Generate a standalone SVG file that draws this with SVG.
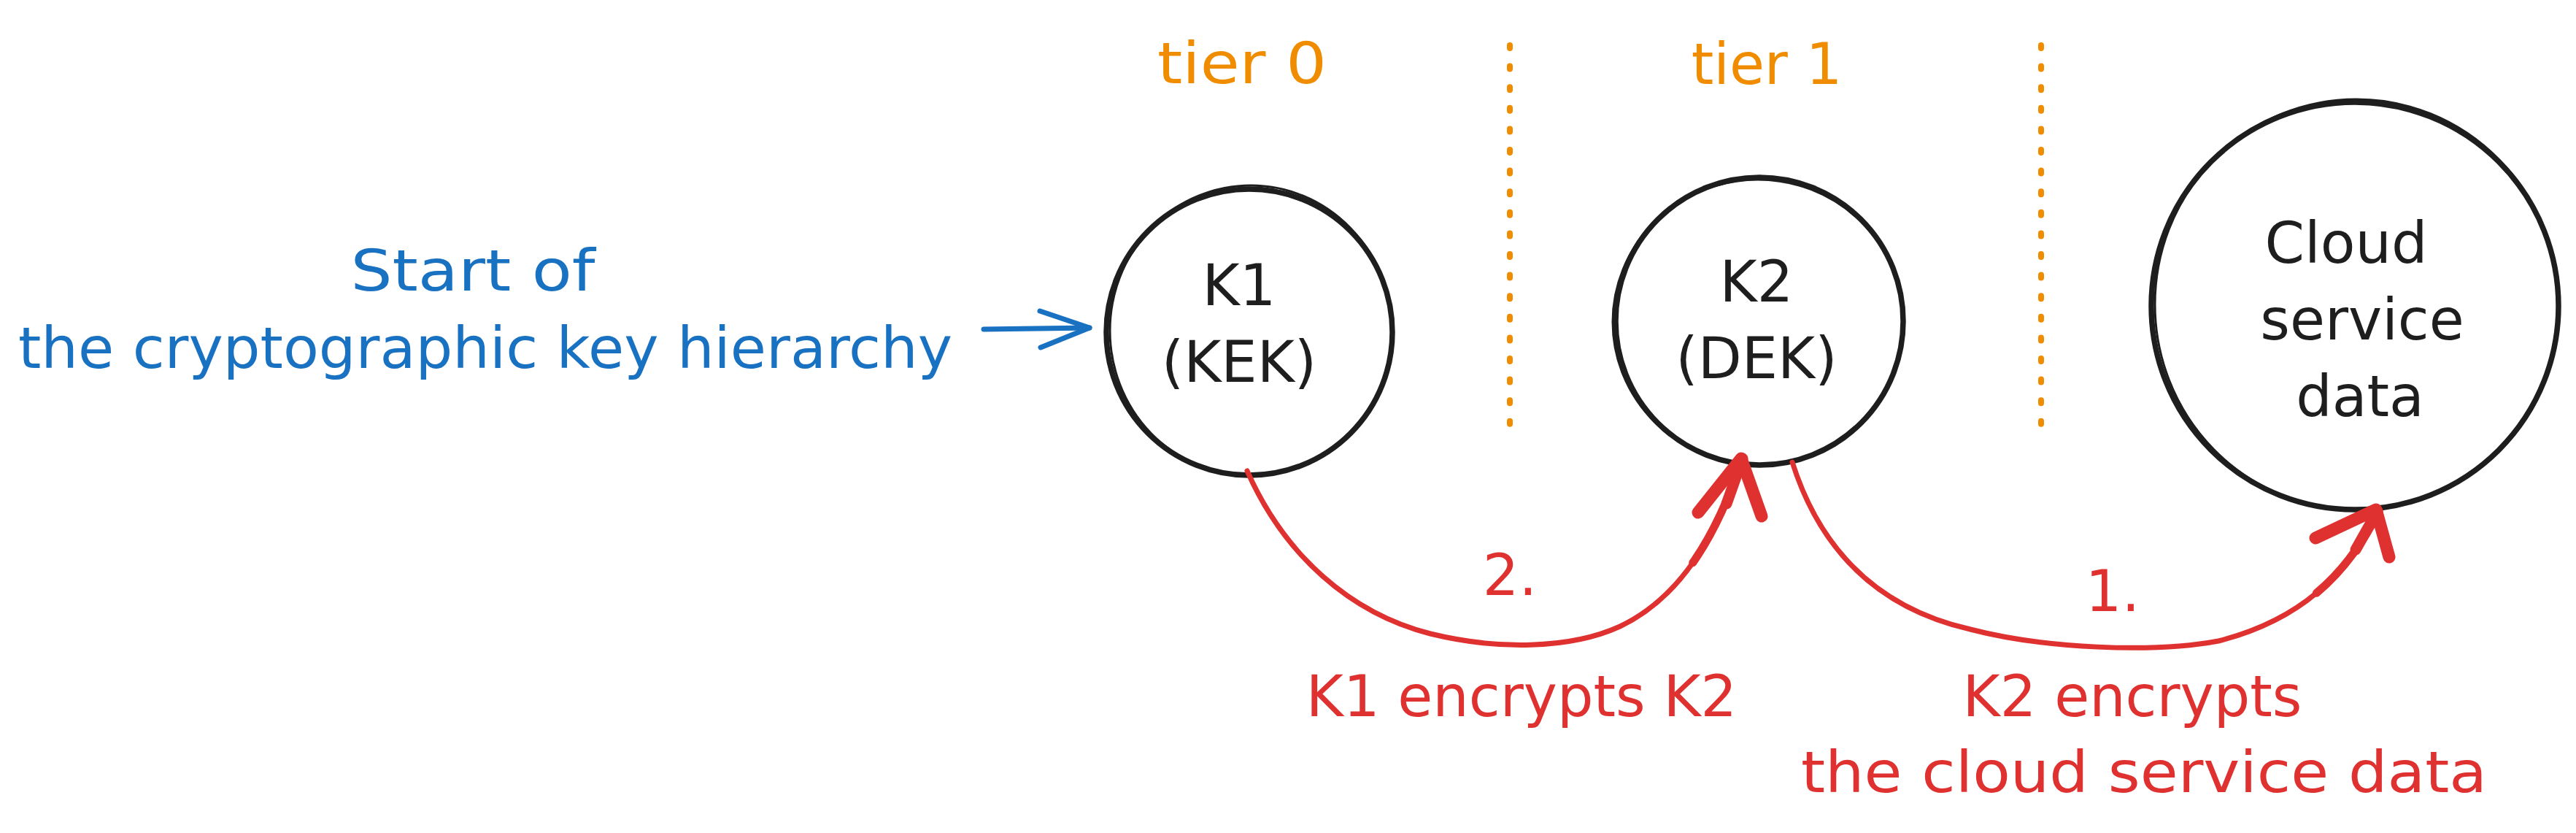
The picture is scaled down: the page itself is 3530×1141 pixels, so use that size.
<svg xmlns="http://www.w3.org/2000/svg" width="3530" height="1141" viewBox="0 0 3530 1141">
<style>
text{font-family:"DejaVu Sans","Liberation Sans",sans-serif;font-size:78px;text-anchor:middle}
.blue{fill:#1971c2}
.orange{fill:#f08c00}
.red{fill:#e03131}
.black{fill:#1e1e1e}
.ring{fill:none;stroke:#1e1e1e;stroke-width:7.5}
.ring2{fill:none;stroke:#1e1e1e;stroke-width:3}
.dots{fill:none;stroke:#f08c00;stroke-width:8;stroke-linecap:round;stroke-dasharray:4 24.6}
.rline{fill:none;stroke:#e03131;stroke-linecap:round;stroke-linejoin:round}
.bline{fill:none;stroke:#1971c2;stroke-width:7;stroke-linecap:round;stroke-linejoin:round}
</style>
<rect width="3530" height="1141" fill="#ffffff"/>

<g id="tiers">
<text class="orange" x="1702" y="114" textLength="232" lengthAdjust="spacingAndGlyphs">tier 0</text>
<text class="orange" x="2421" y="115">tier 1</text>
<line class="dots" x1="2069" y1="62" x2="2069" y2="584"/>
<line class="dots" x1="2797" y1="62" x2="2797" y2="584"/>
</g>

<g id="start-label">
<text class="blue" x="648" y="398" textLength="335" lengthAdjust="spacingAndGlyphs">Start of</text>
<text class="blue" x="665" y="504" textLength="1280" lengthAdjust="spacingAndGlyphs">the cryptographic key hierarchy</text>
</g>

<g id="node-k1">
<circle class="ring" cx="1712" cy="455" r="196"/>
<ellipse class="ring2" cx="1714" cy="453" rx="193" ry="199"/>
<text class="black" x="1698" y="418">K1</text>
<text class="black" x="1698" y="523">(KEK)</text>
</g>

<g id="node-k2">
<circle class="ring" cx="2411" cy="440" r="197"/>
<ellipse class="ring2" cx="2409" cy="441" rx="199" ry="195"/>
<text class="black" x="2407" y="413">K2</text>
<text class="black" x="2407" y="518">(DEK)</text>
</g>

<g id="node-cloud">
<circle class="ring" cx="3227" cy="419" r="279"/>
<ellipse class="ring2" cx="3229" cy="417" rx="276" ry="281"/>
<text class="black" x="3215" y="360">Cloud</text>
<text class="black" x="3237" y="465">service</text>
<text class="black" x="3234" y="570">data</text>
</g>

<g id="connectors">
<path class="bline" d="M1348,451 L1493,449"/>
<polyline class="bline" points="1425,426 1493,449 1426,476"/>

<path class="rline" stroke-width="7" d="M1709,645 C1760,760 1850,840 1960,868 C2050,890 2150,890 2220,858 C2300,820 2350,740 2388,628"/>
<path class="rline" stroke-width="11" d="M2319.75,770.75 C2347,732 2369,684 2388,628"/>
<path class="rline" stroke-width="15" d="M2366,690 L2388,628"/>
<polyline class="rline" stroke-width="17" points="2327,702 2386,628 2414,707"/>

<path class="rline" stroke-width="7" d="M2456,633 C2490,740 2560,830 2700,862 C2800,888 2950,895 3040,878 C3150,850 3215,790 3260,700"/>
<path class="rline" stroke-width="11" d="M3174.4,812.3 C3210,782.5 3237.5,745 3260,700"/>
<path class="rline" stroke-width="15" d="M3228,753 L3258,700"/>
<polyline class="rline" stroke-width="17" points="3173,737 3256,698 3274,763"/>
</g>

<g id="connector-labels">
<text class="red" x="2069" y="815">2.</text>
<text class="red" x="2895" y="837">1.</text>
<text class="red" x="2085" y="981">K1 encrypts K2</text>
<text class="red" x="2922" y="981">K2 encrypts</text>
<text class="red" x="2938" y="1085" textLength="940" lengthAdjust="spacingAndGlyphs">the cloud service data</text>
</g>
</svg>
